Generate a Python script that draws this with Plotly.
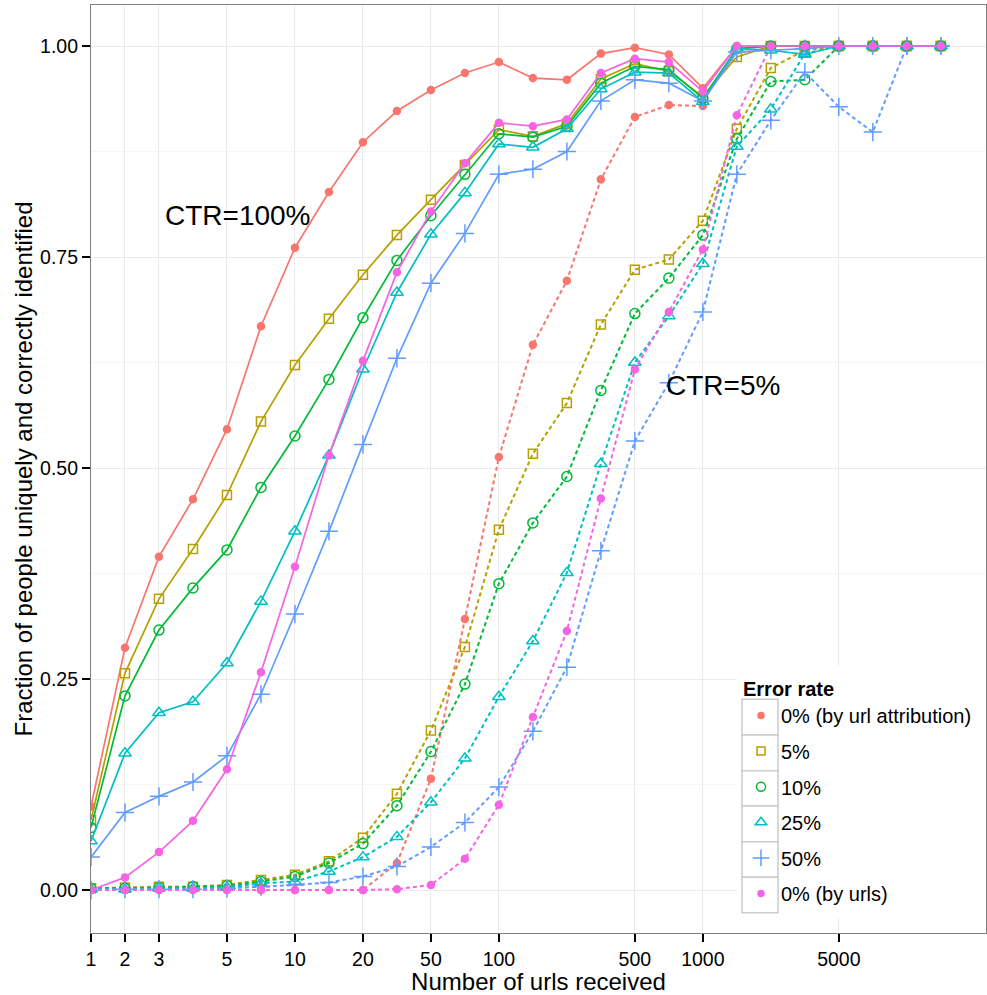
import plotly.graph_objects as go

# ---------------- data ----------------
x_labels = ["1", "2", "3", "4", "5", "7", "10", "15", "20", "30", "50", "70", "100",
            "150", "200", "300", "500", "700", "1000", "1500", "2000", "3000", "5000",
            "7000", "10000", "15000"]
tick_labels = ["1", "2", "3", "5", "10", "20", "50", "100", "500", "1000", "5000"]

series_names = ["0% (by url attribution)", "5%", "10%", "25%", "50%", "0% (by urls)"]

# CTR = 100% (solid lines)
ctr100_attr = [0.099, 0.287, 0.395, 0.463, 0.546, 0.668, 0.761, 0.827, 0.886, 0.923, 0.948, 0.968, 0.981,
               0.962, 0.960, 0.991, 0.998, 0.990, 0.950, 1.0, 1.0, 1.0, 1.0, 1.0, 1.0, 1.0]
ctr100_e05 = [0.083, 0.257, 0.345, 0.404, 0.468, 0.555, 0.622, 0.677, 0.729, 0.776, 0.818, 0.859, 0.901,
              0.893, 0.908, 0.961, 0.979, 0.970, 0.940, 0.987, 1.0, 1.0, 1.0, 1.0, 1.0, 1.0]
ctr100_e10 = [0.074, 0.230, 0.308, 0.358, 0.403, 0.477, 0.538, 0.605, 0.678, 0.746, 0.799, 0.848, 0.896,
              0.892, 0.905, 0.956, 0.976, 0.972, 0.938, 0.997, 1.0, 1.0, 1.0, 1.0, 1.0, 1.0]
ctr100_e25 = [0.058, 0.162, 0.210, 0.223, 0.269, 0.342, 0.425, 0.515, 0.617, 0.708, 0.777, 0.826, 0.884,
              0.880, 0.902, 0.949, 0.969, 0.968, 0.934, 0.997, 0.995, 0.990, 1.0, 1.0, 1.0, 1.0]
ctr100_e50 = [0.039, 0.092, 0.111, 0.128, 0.159, 0.232, 0.327, 0.425, 0.528, 0.630, 0.719, 0.778, 0.848,
              0.854, 0.875, 0.935, 0.960, 0.956, 0.935, 0.993, 0.995, 0.997, 1.0, 1.0, 1.0, 1.0]
ctr100_urls = [0.0, 0.015, 0.045, 0.082, 0.143, 0.258, 0.383, 0.515, 0.627, 0.732, 0.804, 0.861, 0.909,
               0.905, 0.913, 0.968, 0.985, 0.981, 0.946, 1.0, 1.0, 1.0, 1.0, 1.0, 1.0, 1.0]

# CTR = 5% (dotted lines)
ctr5_attr = [0.0, 0.0, 0.0, 0.0, 0.0, 0.0, 0.0, 0.0, 0.0, 0.032, 0.132, 0.321, 0.513,
             0.646, 0.722, 0.842, 0.916, 0.930, 0.929, None, None, None, None, None, None, None]
ctr5_e05 = [0.002, 0.003, 0.004, 0.004, 0.006, 0.012, 0.018, 0.034, 0.062, 0.114, 0.189, 0.288, 0.427,
            0.517, 0.577, 0.670, 0.735, 0.747, 0.793, 0.902, 0.974, 0.995, 1.0, 1.0, 1.0, 1.0]
ctr5_e10 = [0.002, 0.002, 0.003, 0.004, 0.005, 0.010, 0.016, 0.032, 0.055, 0.100, 0.164, 0.244, 0.363,
            0.435, 0.490, 0.592, 0.683, 0.725, 0.776, 0.890, 0.958, 0.960, 1.0, 1.0, 1.0, 1.0]
ctr5_e25 = [0.001, 0.001, 0.002, 0.002, 0.003, 0.008, 0.010, 0.022, 0.039, 0.063, 0.104, 0.156, 0.229,
            0.295, 0.376, 0.505, 0.625, 0.680, 0.742, 0.881, 0.925, 0.991, 1.0, 1.0, 1.0, 1.0]
ctr5_e50 = [0.0, 0.001, 0.001, 0.001, 0.002, 0.004, 0.006, 0.009, 0.016, 0.028, 0.051, 0.080, 0.122,
            0.188, 0.264, 0.402, 0.532, 0.601, 0.685, 0.848, 0.912, 0.969, 0.928, 0.898, 1.0, 1.0]
ctr5_urls = [0.0, 0.0, 0.0, 0.0, 0.0, 0.0, 0.0, 0.0, 0.0, 0.001, 0.006, 0.037, 0.101,
             0.205, 0.307, 0.464, 0.617, 0.685, 0.759, 0.918, 1.0, 1.0, 1.0, 1.0, 1.0, 1.0]

y_ticks = [0.0, 0.25, 0.5, 0.75, 1.0]

# ---------------- style ----------------
FONT = "Liberation Sans, Arial, Helvetica, sans-serif"
colors = ["#F8766D", "#B79F00", "#00BA38", "#00BFC4", "#619CFF", "#F564E3"]
symbols = ["circle", "square-open", "circle-open", "triangle-up-open", "cross-thin-open", "circle"]
sizes = [7, 9, 10, 11, 13, 7]

solid_sets = [ctr100_attr, ctr100_e05, ctr100_e10, ctr100_e25, ctr100_e50, ctr100_urls]
dotted_sets = [ctr5_attr, ctr5_e05, ctr5_e10, ctr5_e25, ctr5_e50, ctr5_urls]

W, H = 987, 995
ML, MR, MT, MB = 91, 1, 5, 62
PW, PH = W - ML - MR, H - MT - MB


def px_x(p):
    return (p - ML) / PW


def px_y(p):
    return (H - MB - p) / PH


fig = go.Figure()

for i in range(6):
    mk = dict(symbol=symbols[i], size=sizes[i], color=colors[i], line=dict(width=1.5, color=colors[i]))
    fig.add_trace(go.Scatter(x=x_labels, y=dotted_sets[i], mode="lines+markers",
                             line=dict(color=colors[i], width=2, dash="4px,3px"),
                             marker=mk, showlegend=False, connectgaps=False, hoverinfo="skip"))
for i in range(6):
    mk = dict(symbol=symbols[i], size=sizes[i], color=colors[i], line=dict(width=1.5, color=colors[i]))
    fig.add_trace(go.Scatter(x=x_labels, y=solid_sets[i], mode="lines+markers",
                             line=dict(color=colors[i], width=1.7),
                             marker=mk, showlegend=False, hoverinfo="skip"))
# legend entries (markers only, like ggplot keys)
for i in range(6):
    mk = dict(symbol=symbols[i], size=sizes[i] - 1, color=colors[i], line=dict(width=1.5, color=colors[i]))
    fig.add_trace(go.Scatter(x=[None], y=[None], mode="markers", marker=mk, name=series_names[i],
                             legendgroup="g%d" % i, showlegend=True))

# legend background and key boxes (ggplot style)
shapes = [dict(type="rect", xref="paper", yref="paper", layer="above",
               x0=px_x(737), x1=px_x(986), y0=px_y(918), y1=px_y(666),
               fillcolor="white", line=dict(width=0))]
row_edges = [699.3, 735.0, 770.7, 806.0, 841.7, 877.3, 912.7]
for i in range(6):
    shapes.append(dict(type="rect", xref="paper", yref="paper", layer="above",
                       x0=px_x(742), x1=px_x(778), y0=px_y(row_edges[i + 1]), y1=px_y(row_edges[i]),
                       fillcolor="white", line=dict(width=1.5, color="#cccccc")))

fig.update_layout(
    width=W, height=H,
    margin=dict(l=ML, r=MR, t=MT, b=MB),
    paper_bgcolor="white", plot_bgcolor="white",
    font=dict(family=FONT, size=20, color="black"),
    shapes=shapes,
    showlegend=True,
    legend=dict(
        x=px_x(741), y=px_y(670), xanchor="left", yanchor="top",
        bgcolor="rgba(0,0,0,0)", borderwidth=0,
        title=dict(text="<b>Error rate</b>", font=dict(size=20, family=FONT)),
        font=dict(size=20, family=FONT, color="black"),
        traceorder="grouped", tracegroupgap=6.6,
        itemclick=False,
    ),
    annotations=[
        dict(x=4.32, y=0.799, xref="x", yref="y", text="CTR=100%", showarrow=False,
             font=dict(size=28, family=FONT, color="black")),
        dict(x=18.6, y=0.598, xref="x", yref="y", text="CTR=5%", showarrow=False,
             font=dict(size=28, family=FONT, color="black")),
    ],
)

fig.update_xaxes(
    type="category", categoryorder="array", categoryarray=x_labels,
    range=[0, 26.33],
    tickvals=tick_labels, ticktext=tick_labels,
    ticks="outside", ticklen=8, tickwidth=2, tickcolor="black",
    tickfont=dict(size=19.5, family=FONT, color="black"),
    showgrid=True, gridcolor="#ebebeb", gridwidth=1.2,
    showline=True, linecolor="#7f7f7f", linewidth=1.2, mirror=True,
    zeroline=False,
    title=dict(text="Number of urls received", font=dict(size=24, family=FONT, color="black"), standoff=2),
)
fig.update_yaxes(
    range=[-0.0509, 1.0486],
    tickvals=y_ticks, ticktext=["%.2f" % v for v in y_ticks],
    ticks="outside", ticklen=8, tickwidth=2, tickcolor="black",
    tickfont=dict(size=19.5, family=FONT, color="black"),
    showgrid=True, gridcolor="#ebebeb", gridwidth=1.2,
    minor=dict(dtick=0.125, tick0=0.125, showgrid=True, gridcolor="#f5f5f5", gridwidth=1, ticklen=0),
    showline=True, linecolor="#7f7f7f", linewidth=1.2, mirror=True,
    zeroline=False,
    title=dict(text="Fraction of people uniquely and correctly identified",
               font=dict(size=24, family=FONT, color="black"), standoff=0),
)

fig.write_html("out.html")
